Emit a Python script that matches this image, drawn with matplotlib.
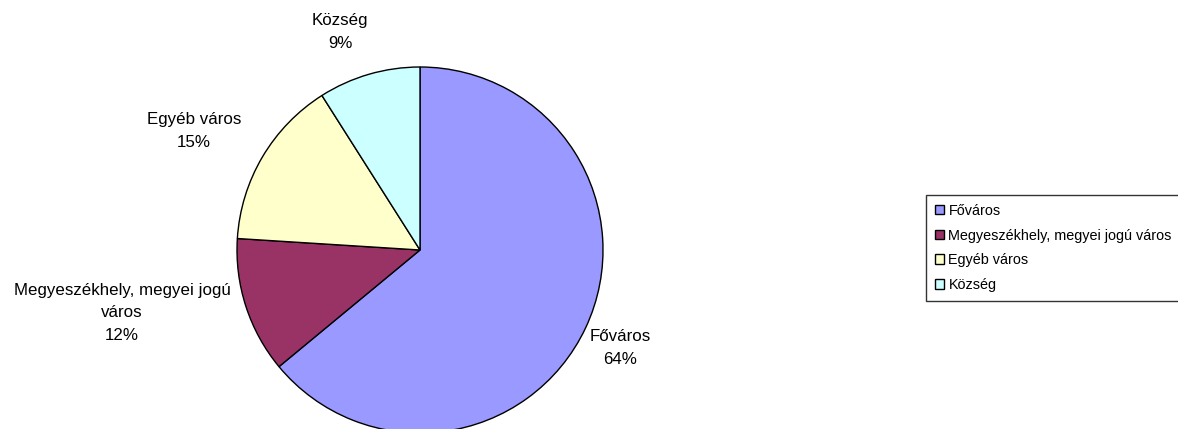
import matplotlib.pyplot as plt

plt.rcParams['font.family'] = ['Liberation Sans', 'DejaVu Sans']

labels = ['Főváros', 'Megyeszékhely, megyei jogú város', 'Egyéb város', 'Község']
label_text = ['Főváros', 'Megyeszékhely, megyei jogú\nváros', 'Egyéb város', 'Község']
shares = [64, 12, 15, 9]
colors = ['#9999FF', '#993366', '#FFFFCC', '#CCFFFF']

# label centres, in units of pie radius
label_pos = [(1.093, -0.536), (-1.628, -0.344), (-1.235, 0.650), (-0.437, 1.191)]

W, H = 1178, 429
fig = plt.figure(figsize=(W / 100, H / 100), dpi=100)
cx, cy, r = 420, 250, 183
ax = fig.add_axes([(cx - r) / W, (H - cy - r) / H, 2 * r / W, 2 * r / H])

wedges, _ = ax.pie(shares, colors=colors, startangle=90, counterclock=False,
                   radius=1, wedgeprops=dict(edgecolor='black', linewidth=1.0))
for w in wedges:
    w.set_clip_on(False)
ax.set_xlim(-1, 1)
ax.set_ylim(-1, 1)
ax.set_aspect('equal')
ax.axis('off')

for (x, y), txt, v in zip(label_pos, label_text, shares):
    ax.text(x, y, f'{txt}\n{v}%', ha='center', va='center', fontsize=12.2,
            linespacing=1.6, clip_on=False)

leg = fig.legend(wedges, labels, loc='upper left',
                 bbox_to_anchor=(926 / W, 1 - 195 / H), frameon=True,
                 fontsize=10.4, handlelength=0.65, handleheight=0.65,
                 handletextpad=0.3, borderpad=0.6, labelspacing=0.75,
                 borderaxespad=0, fancybox=False)
leg.get_frame().set_edgecolor('black')
leg.get_frame().set_linewidth(1.0)
for h in leg.legend_handles:
    h.set_edgecolor('black')
    h.set_linewidth(1.0)

fig.savefig('out.png', dpi=100)
